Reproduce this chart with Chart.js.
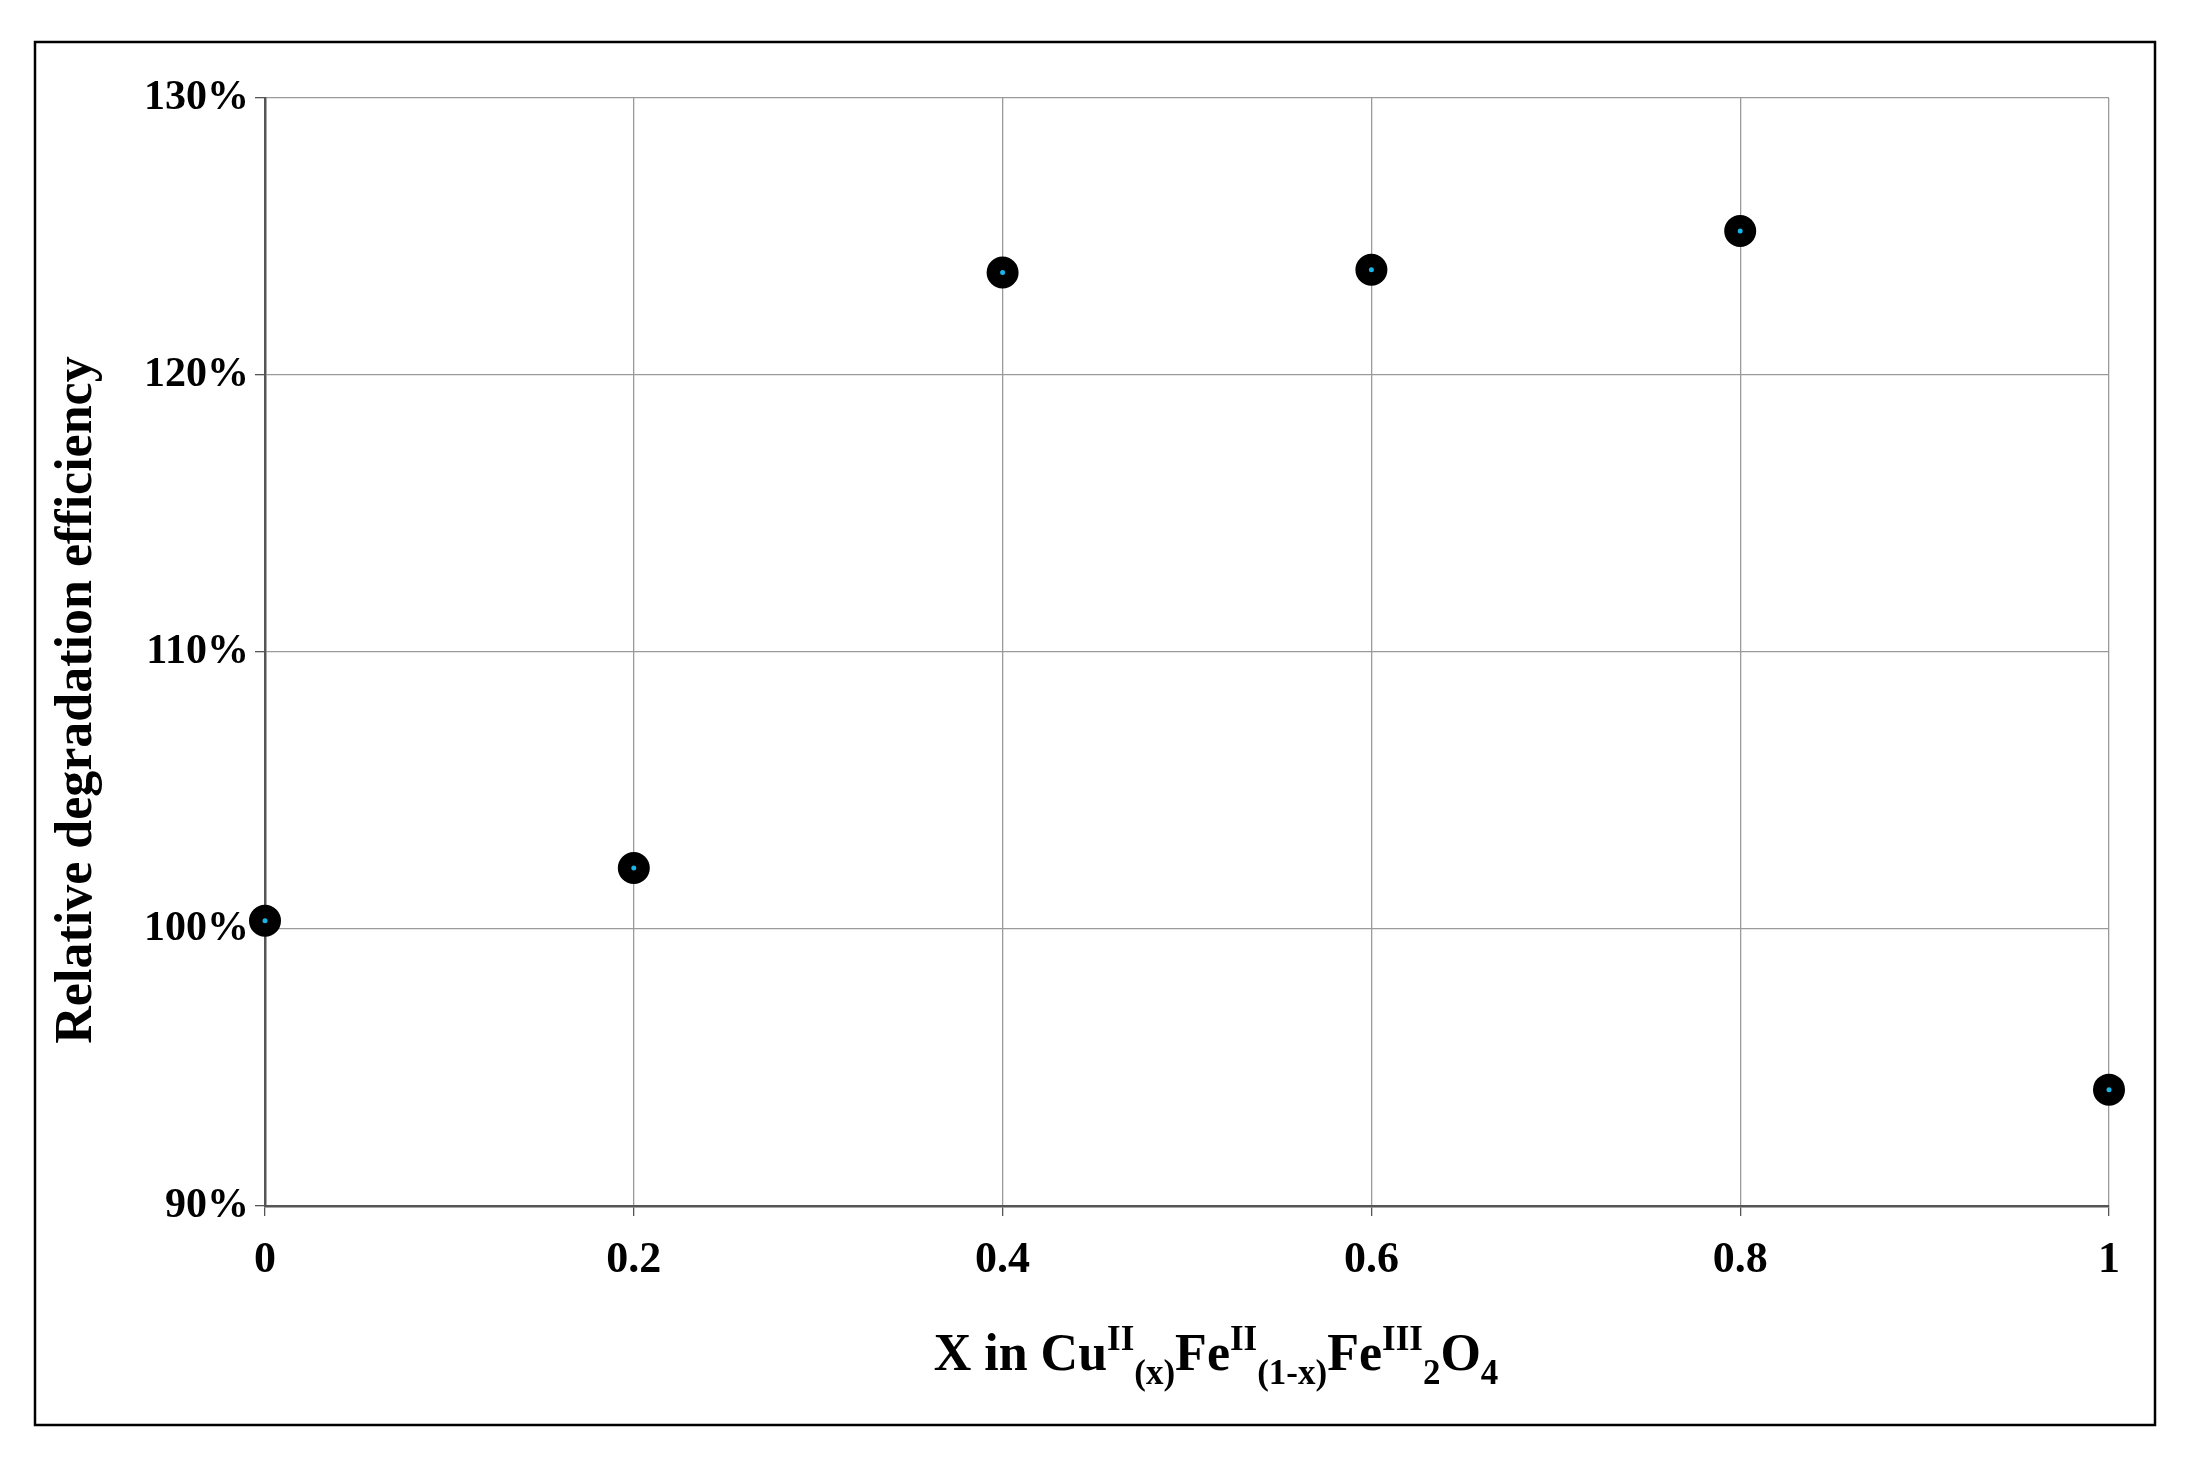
<!DOCTYPE html>
<html>
<head>
<meta charset="utf-8">
<script src="https://cdn.jsdelivr.net/npm/chart.js@4"></script>
<style>
  html, body { margin: 0; padding: 0; background: #fff; }
  #wrap { width: 2190px; height: 1463px; }
</style>
</head>
<body>
<div id="wrap"><canvas id="chart1" width="2190" height="1463"></canvas></div>
<script>
// values
const xValues = [0, 0.2, 0.4, 0.6, 0.8, 1];
const efficiency = [100.3, 102.2, 123.7, 123.8, 125.2, 94.2];
const yTicks = [90, 100, 110, 120, 130];

const FONT = '"Liberation Serif", "Times New Roman", serif';

// frame around the whole figure plus the axis titles (sub/superscripts drawn by hand)
const decor = {
    id: 'decor',
    beforeDraw(chart) {
        const c = chart.ctx;
        c.save();
        c.fillStyle = '#fff';
        c.fillRect(0, 0, chart.width, chart.height);
        c.strokeStyle = '#000';
        c.lineWidth = 2.5;
        c.strokeRect(35, 42, 2120, 1383);
        c.restore();
    },
    afterDraw(chart) {
        const c = chart.ctx;
        c.save();
        c.fillStyle = '#000';
        // y title
        c.translate(78, 700);
        c.rotate(-Math.PI / 2);
        c.font = 'bold 52px ' + FONT;
        c.textAlign = 'center';
        c.textBaseline = 'middle';
        c.fillText('Relative degradation efficiency', 0, 0);
        c.restore();

        // x title: [text, mode] mode 0 normal, 1 sup, -1 sub
        const parts = [['X in Cu', 0], ['II', 1], ['(x)', -1], ['Fe', 0], ['II', 1], ['(1-x)', -1],
                       ['Fe', 0], ['III', 1], ['2', -1], ['O', 0], ['4', -1]];
        const big = 'bold 52px ' + FONT, small = 'bold 35px ' + FONT;
        c.save();
        let total = 0;
        parts.forEach(p => { c.font = p[1] ? small : big; total += c.measureText(p[0]).width; });
        let x = 1216 - total / 2;
        const base = 1370;
        c.textBaseline = 'alphabetic';
        c.fillStyle = '#000';
        parts.forEach(p => {
            c.font = p[1] ? small : big;
            const dy = p[1] === 1 ? -20 : p[1] === -1 ? 14 : 0;
            c.fillText(p[0], x, base + dy);
            x += c.measureText(p[0]).width;
        });
        c.restore();
    }
};

const pts = xValues.map((x, i) => ({ x: x, y: efficiency[i] }));

new Chart(document.getElementById('chart1').getContext('2d'), {
    type: 'scatter',
    data: {
        datasets: [
            {
                data: pts,
                order: 2,
                clip: false,
                pointRadius: 15,
                pointBackgroundColor: '#000',
                pointBorderColor: '#000',
                pointBorderWidth: 2
            },
            {
                data: pts,
                order: 1,
                clip: false,
                pointRadius: 2.5,
                pointBackgroundColor: '#19b5e8',
                pointBorderWidth: 0
            }
        ]
    },
    options: {
        responsive: false,
        animation: false,
        layout: { padding: { left: 100, right: 81, top: 98, bottom: 100 } },
        plugins: { legend: { display: false }, tooltip: { enabled: false } },
        scales: {
            x: {
                type: 'linear',
                min: 0, max: 1,
                afterFit: s => { s.height = 157; },
                afterBuildTicks: s => { s.ticks = xValues.map(v => ({ value: v })); },
                grid: { color: '#9a9a9a', lineWidth: 1.3, tickLength: 10, tickColor: '#555' },
                border: { color: '#555', width: 2.5 },
                ticks: {
                    color: '#000',
                    padding: 18,
                    font: { family: FONT, size: 44, weight: 'bold' },
                    callback: v => String(v)
                }
            },
            y: {
                min: 90, max: 130,
                afterFit: s => { s.width = 165; },
                afterBuildTicks: s => { s.ticks = yTicks.map(v => ({ value: v })); },
                grid: { color: '#9a9a9a', lineWidth: 1.3, tickLength: 10, tickColor: '#555' },
                border: { color: '#555', width: 2.5 },
                ticks: {
                    color: '#000',
                    padding: 6,
                    font: { family: FONT, size: 42, weight: 'bold' },
                    callback: v => v + '%'
                }
            }
        }
    },
    plugins: [decor]
});
</script>
</body>
</html>
